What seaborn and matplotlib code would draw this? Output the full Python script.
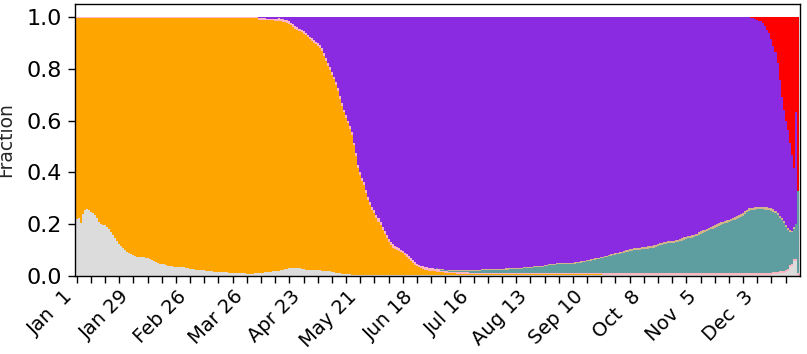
import numpy as np
import pandas as pd
import matplotlib
matplotlib.use("Agg")
import matplotlib.pyplot as plt
import seaborn as sns

# ---------------- data (daily fractions, 2021-01-01 .. 2021-12-23) ----------------
n_days = 357

other = [
    0.220, 0.225, 0.205, 0.240, 0.255, 0.260, 0.255,
    0.248, 0.245, 0.235, 0.225, 0.210, 0.200, 0.198,
    0.195, 0.190, 0.180, 0.168, 0.158, 0.145, 0.135,
    0.125, 0.117, 0.108, 0.100, 0.094, 0.088, 0.084,
    0.080, 0.077, 0.075, 0.073, 0.073, 0.072, 0.071,
    0.068, 0.065, 0.062, 0.058, 0.055, 0.051, 0.048,
    0.046, 0.045, 0.043, 0.040, 0.039, 0.038, 0.036,
    0.035, 0.035, 0.034, 0.034, 0.033, 0.032, 0.030,
    0.028, 0.027, 0.026, 0.025, 0.024, 0.024, 0.023,
    0.022, 0.021, 0.020, 0.019, 0.018, 0.017, 0.016,
    0.016, 0.015, 0.015, 0.014, 0.014, 0.013, 0.013,
    0.013, 0.012, 0.012, 0.011, 0.011, 0.010, 0.010,
    0.009, 0.009, 0.009, 0.009, 0.010, 0.010, 0.011,
    0.012, 0.013, 0.014, 0.015, 0.016, 0.017, 0.018,
    0.019, 0.020, 0.021, 0.022, 0.024, 0.026, 0.028,
    0.030, 0.032, 0.032, 0.031, 0.030, 0.029, 0.027,
    0.026, 0.025, 0.025, 0.024, 0.024, 0.024, 0.023,
    0.022, 0.022, 0.021, 0.020, 0.020, 0.019, 0.018,
    0.016, 0.015, 0.013, 0.011, 0.010, 0.009, 0.008,
    0.007, 0.006, 0.006, 0.005, 0.005, 0.005, 0.004,
    0.004, 0.004, 0.004, 0.004, 0.004, 0.004, 0.004,
    0.004, 0.004, 0.004, 0.004, 0.004, 0.004, 0.004,
    0.004, 0.004, 0.004, 0.004, 0.004, 0.004, 0.004,
    0.004, 0.004, 0.004, 0.004, 0.004, 0.004, 0.004,
    0.004, 0.004, 0.004, 0.004, 0.004, 0.004, 0.004,
    0.004, 0.004, 0.004, 0.004, 0.004, 0.004, 0.004,
    0.004, 0.004, 0.004, 0.004, 0.004, 0.004, 0.004,
    0.004, 0.004, 0.004, 0.004, 0.004, 0.004, 0.004,
    0.004, 0.004, 0.004, 0.004, 0.004, 0.004, 0.004,
    0.004, 0.004, 0.004, 0.004, 0.004, 0.004, 0.004,
    0.004, 0.004, 0.004, 0.004, 0.004, 0.004, 0.004,
    0.004, 0.004, 0.004, 0.004, 0.004, 0.004, 0.004,
    0.004, 0.004, 0.004, 0.004, 0.004, 0.004, 0.004,
    0.004, 0.004, 0.004, 0.004, 0.004, 0.004, 0.004,
    0.004, 0.004, 0.004, 0.004, 0.004, 0.004, 0.004,
    0.004, 0.004, 0.004, 0.004, 0.004, 0.004, 0.004,
    0.004, 0.004, 0.004, 0.004, 0.004, 0.004, 0.004,
    0.004, 0.004, 0.004, 0.004, 0.004, 0.004, 0.004,
    0.004, 0.004, 0.004, 0.004, 0.004, 0.004, 0.004,
    0.004, 0.004, 0.004, 0.004, 0.004, 0.004, 0.004,
    0.004, 0.004, 0.004, 0.004, 0.004, 0.004, 0.004,
    0.004, 0.004, 0.004, 0.004, 0.004, 0.004, 0.004,
    0.004, 0.004, 0.004, 0.004, 0.004, 0.004, 0.004,
    0.004, 0.004, 0.004, 0.004, 0.004, 0.004, 0.004,
    0.004, 0.004, 0.004, 0.004, 0.004, 0.004, 0.004,
    0.004, 0.004, 0.004, 0.004, 0.004, 0.004, 0.004,
    0.004, 0.004, 0.004, 0.004, 0.004, 0.004, 0.004,
    0.004, 0.004, 0.004, 0.004, 0.004, 0.004, 0.004,
    0.004, 0.004, 0.004, 0.004, 0.004, 0.004, 0.005,
    0.005, 0.006, 0.006, 0.008, 0.010, 0.010, 0.012,
    0.015, 0.020, 0.035, 0.040, 0.058, 0.058, 0.005,
]

alpha = [
    0.776, 0.771, 0.791, 0.756, 0.741, 0.736, 0.741,
    0.748, 0.751, 0.761, 0.771, 0.786, 0.796, 0.798,
    0.801, 0.806, 0.816, 0.828, 0.838, 0.851, 0.861,
    0.871, 0.879, 0.888, 0.896, 0.902, 0.908, 0.912,
    0.916, 0.919, 0.920, 0.922, 0.922, 0.923, 0.924,
    0.927, 0.930, 0.933, 0.937, 0.940, 0.944, 0.947,
    0.949, 0.950, 0.952, 0.955, 0.956, 0.957, 0.959,
    0.960, 0.960, 0.961, 0.961, 0.962, 0.963, 0.965,
    0.967, 0.968, 0.969, 0.970, 0.971, 0.971, 0.972,
    0.973, 0.974, 0.975, 0.976, 0.977, 0.978, 0.979,
    0.979, 0.980, 0.980, 0.981, 0.981, 0.982, 0.982,
    0.982, 0.983, 0.983, 0.984, 0.984, 0.985, 0.985,
    0.986, 0.986, 0.986, 0.986, 0.985, 0.985, 0.979,
    0.978, 0.976, 0.975, 0.973, 0.972, 0.970, 0.969,
    0.967, 0.966, 0.964, 0.962, 0.958, 0.954, 0.949,
    0.944, 0.936, 0.930, 0.924, 0.920, 0.916, 0.913,
    0.910, 0.904, 0.896, 0.890, 0.884, 0.877, 0.872,
    0.866, 0.858, 0.849, 0.830, 0.810, 0.793, 0.777,
    0.760, 0.745, 0.725, 0.704, 0.675, 0.647, 0.624,
    0.603, 0.584, 0.562, 0.539, 0.500, 0.460, 0.414,
    0.386, 0.361, 0.346, 0.316, 0.289, 0.271, 0.251,
    0.238, 0.221, 0.206, 0.191, 0.174, 0.158, 0.143,
    0.128, 0.116, 0.106, 0.100, 0.095, 0.091, 0.088,
    0.083, 0.076, 0.071, 0.063, 0.054, 0.046, 0.040,
    0.034, 0.029, 0.026, 0.023, 0.020, 0.019, 0.017,
    0.016, 0.015, 0.014, 0.013, 0.012, 0.011, 0.010,
    0.009, 0.008, 0.007, 0.007, 0.006, 0.006, 0.005,
    0.005, 0.005, 0.004, 0.004, 0.004, 0.003, 0.003,
    0.003, 0.003, 0.002, 0.002, 0.002, 0.002, 0.002,
    0.002, 0.002, 0.002, 0.002, 0.002, 0.002, 0.002,
    0.002, 0.002, 0.002, 0.002, 0.002, 0.002, 0.002,
    0.002, 0.002, 0.002, 0.002, 0.002, 0.002, 0.002,
    0.002, 0.002, 0.002, 0.002, 0.002, 0.002, 0.002,
    0.002, 0.002, 0.002, 0.002, 0.002, 0.002, 0.002,
    0.002, 0.002, 0.002, 0.002, 0.002, 0.002, 0.002,
    0.002, 0.002, 0.002, 0.002, 0.002, 0.002, 0.002,
    0.002, 0.002, 0.002, 0.002, 0.002, 0.002, 0.002,
    0.002,
]

minor = [
    0.004, 0.004, 0.004, 0.004, 0.004, 0.004, 0.004,
    0.004, 0.004, 0.004, 0.004, 0.004, 0.004, 0.004,
    0.004, 0.004, 0.004, 0.004, 0.004, 0.004, 0.004,
    0.004, 0.004, 0.004, 0.004, 0.004, 0.004, 0.004,
    0.004, 0.004, 0.005, 0.005, 0.005, 0.005, 0.005,
    0.005, 0.005, 0.005, 0.005, 0.005, 0.005, 0.005,
    0.005, 0.005, 0.005, 0.005, 0.005, 0.005, 0.005,
    0.005, 0.005, 0.005, 0.005, 0.005, 0.005, 0.005,
    0.005, 0.005, 0.005, 0.005, 0.005, 0.005, 0.005,
    0.005, 0.005, 0.005, 0.005, 0.005, 0.005, 0.005,
    0.005, 0.005, 0.005, 0.005, 0.005, 0.005, 0.005,
    0.005, 0.005, 0.005, 0.005, 0.005, 0.005, 0.005,
    0.005, 0.005, 0.005, 0.005, 0.005, 0.005, 0.006,
    0.006, 0.006, 0.006, 0.006, 0.006, 0.006, 0.006,
    0.006, 0.006, 0.010, 0.010, 0.010, 0.010, 0.010,
    0.010, 0.010, 0.010, 0.010, 0.010, 0.010, 0.010,
    0.010, 0.010, 0.010, 0.010, 0.010, 0.010, 0.010,
    0.010, 0.010, 0.010, 0.010, 0.010, 0.010, 0.010,
    0.010, 0.010, 0.010, 0.010, 0.010, 0.010, 0.010,
    0.010, 0.010, 0.010, 0.010, 0.010, 0.010, 0.010,
    0.012, 0.012, 0.012, 0.012, 0.012, 0.012, 0.012,
    0.012, 0.012, 0.012, 0.012, 0.012, 0.012, 0.012,
    0.012, 0.012, 0.012, 0.012, 0.012, 0.012, 0.010,
    0.010, 0.010, 0.010, 0.010, 0.010, 0.010, 0.010,
    0.010, 0.010, 0.010, 0.010, 0.010, 0.010, 0.010,
    0.010, 0.010, 0.010, 0.010, 0.010, 0.006, 0.006,
    0.006, 0.006, 0.006, 0.006, 0.006, 0.006, 0.006,
    0.006, 0.006, 0.006, 0.006, 0.006, 0.006, 0.006,
    0.006, 0.006, 0.006, 0.006, 0.006, 0.006, 0.006,
    0.006, 0.006, 0.006, 0.006, 0.006, 0.006, 0.006,
    0.006, 0.006, 0.006, 0.006, 0.006, 0.006, 0.006,
    0.006, 0.006, 0.006, 0.006, 0.006, 0.006, 0.006,
    0.006, 0.006, 0.006, 0.006, 0.006, 0.006, 0.006,
    0.006, 0.006, 0.006, 0.006, 0.006, 0.006, 0.006,
    0.006, 0.006, 0.006, 0.006, 0.006, 0.006, 0.006,
    0.006, 0.006, 0.006, 0.006, 0.006, 0.006, 0.006,
    0.006, 0.006, 0.006, 0.006, 0.006, 0.006, 0.006,
    0.006, 0.008, 0.008, 0.008, 0.008, 0.008, 0.008,
    0.008, 0.008, 0.008, 0.008, 0.008, 0.008, 0.008,
    0.008, 0.008, 0.008, 0.008, 0.008, 0.008, 0.008,
    0.008, 0.008, 0.008, 0.008, 0.008, 0.008, 0.008,
    0.008, 0.008, 0.008, 0.008, 0.008, 0.008, 0.008,
    0.008, 0.008, 0.008, 0.008, 0.008, 0.008, 0.008,
    0.008, 0.008, 0.008, 0.008, 0.008, 0.008, 0.008,
    0.008, 0.008, 0.008, 0.008, 0.008, 0.008, 0.008,
    0.008, 0.008, 0.008, 0.008, 0.008, 0.008, 0.008,
    0.008, 0.008, 0.008, 0.008, 0.008, 0.008, 0.008,
    0.008, 0.008, 0.008, 0.008, 0.008, 0.008, 0.008,
    0.008, 0.008, 0.008, 0.008, 0.008, 0.008, 0.008,
    0.008, 0.008, 0.008, 0.008, 0.008, 0.008, 0.008,
    0.008, 0.008, 0.008, 0.008, 0.008, 0.008, 0.008,
    0.008, 0.008, 0.008, 0.008, 0.008, 0.008, 0.008,
    0.008, 0.008, 0.008, 0.008, 0.008, 0.008, 0.008,
    0.008, 0.008, 0.008, 0.008, 0.008, 0.008, 0.008,
    0.008, 0.008, 0.008, 0.008, 0.008, 0.008, 0.008,
]

delta_start = 90
delta = [
    0.004,
    0.004, 0.005, 0.005, 0.006, 0.006, 0.007, 0.007,
    0.008, 0.008, 0.005, 0.006, 0.008, 0.010, 0.013,
    0.016, 0.022, 0.028, 0.035, 0.040, 0.045, 0.050,
    0.054, 0.061, 0.069, 0.076, 0.082, 0.089, 0.095,
    0.102, 0.110, 0.120, 0.140, 0.160, 0.178, 0.195,
    0.214, 0.230, 0.252, 0.275, 0.305, 0.334, 0.358,
    0.380, 0.400, 0.422, 0.446, 0.485, 0.525, 0.572,
    0.598, 0.623, 0.638, 0.668, 0.695, 0.713, 0.733,
    0.746, 0.763, 0.778, 0.793, 0.810, 0.826, 0.841,
    0.856, 0.868, 0.878, 0.884, 0.889, 0.893, 0.898,
    0.903, 0.910, 0.915, 0.923, 0.932, 0.940, 0.946,
    0.952, 0.957, 0.960, 0.963, 0.966, 0.967, 0.969,
    0.970, 0.971, 0.972, 0.971, 0.972, 0.973, 0.974,
    0.975, 0.975, 0.976, 0.976, 0.976, 0.976, 0.977,
    0.976, 0.976, 0.977, 0.976, 0.976, 0.977, 0.976,
    0.976, 0.976, 0.976, 0.976, 0.974, 0.974, 0.974,
    0.974, 0.974, 0.973, 0.973, 0.973, 0.973, 0.973,
    0.972, 0.972, 0.971, 0.971, 0.970, 0.970, 0.969,
    0.969, 0.969, 0.968, 0.968, 0.967, 0.966, 0.965,
    0.965, 0.964, 0.963, 0.963, 0.962, 0.961, 0.960,
    0.958, 0.956, 0.954, 0.953, 0.953, 0.952, 0.951,
    0.951, 0.951, 0.949, 0.949, 0.949, 0.949, 0.948,
    0.948, 0.947, 0.946, 0.945, 0.944, 0.942, 0.941,
    0.939, 0.938, 0.936, 0.933, 0.932, 0.930, 0.929,
    0.927, 0.925, 0.923, 0.921, 0.919, 0.917, 0.915,
    0.913, 0.911, 0.909, 0.907, 0.902, 0.900, 0.898,
    0.897, 0.895, 0.893, 0.892, 0.891, 0.890, 0.889,
    0.888, 0.887, 0.886, 0.885, 0.884, 0.882, 0.880,
    0.877, 0.874, 0.871, 0.868, 0.867, 0.866, 0.865,
    0.864, 0.863, 0.862, 0.861, 0.858, 0.855, 0.851,
    0.848, 0.846, 0.844, 0.843, 0.840, 0.836, 0.832,
    0.828, 0.824, 0.821, 0.818, 0.815, 0.811, 0.808,
    0.804, 0.801, 0.797, 0.793, 0.791, 0.788, 0.785,
    0.782, 0.779, 0.776, 0.773, 0.770, 0.766, 0.762,
    0.758, 0.750, 0.744, 0.737, 0.734, 0.731, 0.728,
    0.724, 0.720, 0.717, 0.712, 0.700, 0.685, 0.674,
    0.654, 0.631, 0.614, 0.580, 0.525, 0.468, 0.428,
    0.403, 0.379, 0.335, 0.292, 0.229, 0.433, 0.000,
]

ay42_start = 178
ay42 = [
    0.002, 0.002, 0.003, 0.003,
    0.003, 0.004, 0.004, 0.004, 0.005, 0.005, 0.005,
    0.006, 0.006, 0.006, 0.007, 0.007, 0.007, 0.008,
    0.008, 0.008, 0.009, 0.009, 0.010, 0.010, 0.010,
    0.010, 0.010, 0.011, 0.011, 0.011, 0.011, 0.011,
    0.012, 0.012, 0.013, 0.013, 0.014, 0.014, 0.015,
    0.015, 0.015, 0.016, 0.016, 0.017, 0.018, 0.019,
    0.019, 0.020, 0.021, 0.021, 0.022, 0.023, 0.024,
    0.026, 0.028, 0.030, 0.031, 0.031, 0.032, 0.033,
    0.033, 0.033, 0.034, 0.034, 0.034, 0.034, 0.035,
    0.035, 0.036, 0.037, 0.038, 0.039, 0.041, 0.042,
    0.044, 0.045, 0.047, 0.050, 0.051, 0.053, 0.054,
    0.056, 0.058, 0.060, 0.062, 0.064, 0.066, 0.068,
    0.070, 0.072, 0.074, 0.076, 0.078, 0.080, 0.082,
    0.083, 0.085, 0.087, 0.088, 0.089, 0.090, 0.091,
    0.092, 0.093, 0.094, 0.095, 0.096, 0.098, 0.100,
    0.103, 0.106, 0.109, 0.112, 0.113, 0.114, 0.115,
    0.116, 0.117, 0.118, 0.119, 0.122, 0.125, 0.128,
    0.131, 0.133, 0.135, 0.136, 0.139, 0.143, 0.147,
    0.151, 0.155, 0.158, 0.161, 0.164, 0.168, 0.171,
    0.175, 0.178, 0.182, 0.186, 0.188, 0.191, 0.194,
    0.197, 0.200, 0.203, 0.206, 0.209, 0.213, 0.217,
    0.221, 0.228, 0.234, 0.240, 0.242, 0.243, 0.244,
    0.245, 0.245, 0.245, 0.245, 0.244, 0.244, 0.242,
    0.239, 0.234, 0.228, 0.219, 0.207, 0.197, 0.185,
    0.167, 0.150, 0.128, 0.120, 0.115, 0.134, 0.317,
]

ay421_start = 180
ay421 = [
    0.003, 0.003, 0.003, 0.003, 0.003, 0.003, 0.003, 0.003, 0.003, 0.003,
    0.003, 0.003, 0.003, 0.003, 0.003, 0.003, 0.003, 0.003, 0.003, 0.003,
    0.004, 0.004, 0.004, 0.004, 0.004, 0.004, 0.004, 0.004, 0.004, 0.004,
    0.004, 0.004, 0.004, 0.004, 0.004, 0.004, 0.004, 0.004, 0.004, 0.004,
    0.004, 0.004, 0.004, 0.004, 0.004, 0.004, 0.004, 0.004, 0.004, 0.004,
    0.004, 0.004, 0.004, 0.004, 0.004, 0.004, 0.004, 0.004, 0.004, 0.004,
    0.005, 0.005, 0.005, 0.005, 0.005, 0.005, 0.005, 0.005, 0.005, 0.005,
    0.005, 0.005, 0.005, 0.005, 0.005, 0.005, 0.005, 0.005, 0.005, 0.005,
    0.005, 0.005, 0.005, 0.005, 0.005, 0.005, 0.005, 0.005, 0.005, 0.005,
    0.008, 0.008, 0.008, 0.008, 0.008, 0.008, 0.008, 0.008, 0.008, 0.008,
    0.008, 0.008, 0.008, 0.008, 0.008, 0.008, 0.008, 0.008, 0.008, 0.008,
    0.008, 0.008, 0.008, 0.008, 0.008, 0.008, 0.008, 0.008, 0.008, 0.008,
    0.009, 0.009, 0.009, 0.009, 0.009, 0.009, 0.009, 0.009, 0.009, 0.009,
    0.009, 0.009, 0.009, 0.009, 0.009, 0.009, 0.009, 0.009, 0.009, 0.009,
    0.009, 0.009, 0.009, 0.009, 0.009, 0.009, 0.009, 0.009, 0.009, 0.009,
    0.009, 0.009, 0.009, 0.009, 0.009, 0.009, 0.009, 0.009, 0.009, 0.009,
    0.009, 0.009, 0.009, 0.009, 0.009, 0.009,
    0.007, 0.007, 0.007, 0.007, 0.007, 0.007, 0.007, 0.007, 0.007,
    0.000, 0.000,
]

omicron_start = 330
omicron = [
    0.001, 0.001, 0.002, 0.003, 0.005, 0.007, 0.010,
    0.014, 0.017, 0.022, 0.035, 0.050, 0.062, 0.085,
    0.112, 0.135, 0.178, 0.243, 0.310, 0.360, 0.400,
    0.436, 0.487, 0.533, 0.583, 0.367, 0.670,
]

# stacking order: first level on top, last level at bottom
variants = ["Omicron", "Delta", "AY.4.2.x", "AY.4.2", "Minor", "Alpha", "Other"]
colors = ["#ff0000", "#8a2be2", "#d2b48c", "#5f9ea0", "#ffb6c1", "#ffa500", "#dcdcdc"]

tick_step = 7
label_step = 28
tick_labels = ["Jan  1", "Jan 29", "Feb 26", "Mar 26", "Apr 23", "May 21",
               "Jun 18", "Jul 16", "Aug 13", "Sep 10", "Oct  8", "Nov  5", "Dec  3"]

# ---------------- build long table ----------------
series = {
    "Other": (0, other),
    "Alpha": (0, alpha),
    "Minor": (0, minor),
    "Delta": (delta_start, delta),
    "AY.4.2": (ay42_start, ay42),
    "AY.4.2.x": (ay421_start, ay421),
    "Omicron": (omicron_start, omicron),
}
rows = []
for name, (s0, vals) in series.items():
    for i, v in enumerate(vals):
        rows.append((s0 + i, name, v))
df = pd.DataFrame(rows, columns=["day", "variant", "fraction"])

# ---------------- plot ----------------
sns.set_style("ticks")
fig = plt.figure(figsize=(8.07, 3.54), dpi=100)
ax = fig.add_axes([75 / 807, 1 - 276 / 354, 725 / 807, 272 / 354])

sns.histplot(
    data=df, x="day", weights="fraction", hue="variant",
    hue_order=variants, palette=dict(zip(variants, colors)),
    multiple="stack", discrete=True, shrink=1.0, element="bars",
    linewidth=0, alpha=1.0, legend=False, antialiased=False, ax=ax,
)

ax.set_xlim(-0.84, 357.1)
ax.set_ylim(0, 1.05)
ax.set_yticks([0.0, 0.2, 0.4, 0.6, 0.8, 1.0])
ax.set_yticklabels(["0.0", "0.2", "0.4", "0.6", "0.8", "1.0"], fontsize=16)
ticks = list(range(0, n_days, tick_step))
ax.set_xticks(ticks)
lab_iter = iter(tick_labels)
ax.set_xticklabels([next(lab_iter) if t % label_step == 0 else "" for t in ticks],
                   rotation=45, ha="right", fontsize=14)
ax.set_xlabel("")
ax.set_ylabel("Fraction", fontsize=13.5, labelpad=8)
for sp in ax.spines.values():
    sp.set_visible(True)
    sp.set_color("black")
    sp.set_linewidth(1.0)
ax.tick_params(axis="both", colors="black", length=4.8, width=1.0, pad=4.5)
ax.tick_params(axis="x", pad=3.0)

fig.savefig("out.png", dpi=100)
